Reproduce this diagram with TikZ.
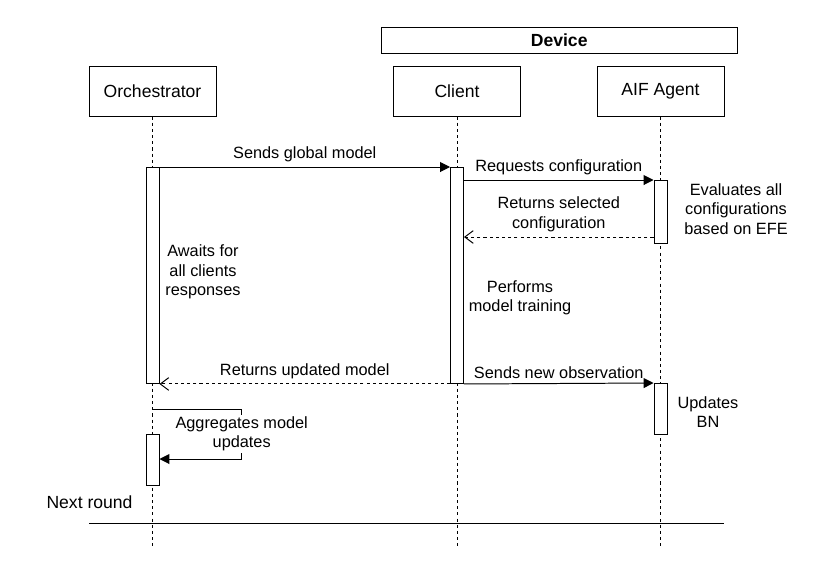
\documentclass[tikz,border=0pt]{standalone}
\usepackage{fontspec}
\setmainfont{Liberation Sans}
\usepackage{tikz}
\usetikzlibrary{arrows.meta, positioning}
\tikzstyle{head2} = [rectangle, minimum width=3.175cm, minimum height=1.25cm, align=center, draw=black, line width=0.7pt, font=\fontsize{12.5}{15}\selectfont]
\tikzstyle{group2} = [rectangle, minimum width=8.89cm, minimum height=0.65cm, align=center, draw=black, line width=0.7pt, font=\fontsize{12.5}{15}\selectfont\bfseries]
\tikzstyle{bar2} = [rectangle, minimum width=0.325cm, inner sep=0pt, anchor=north, draw=black, fill=white, line width=0.7pt]
\tikzstyle{lifeline2} = [line width=0.7pt, dash pattern=on 2.2pt off 2.2pt]
\tikzstyle{arrow2} = [line width=0.7pt, -{Triangle[length=7pt,width=7pt]}]
\tikzstyle{reply2} = [line width=0.7pt, dash pattern=on 2.2pt off 2.2pt, -{Straight Barb[length=6pt,width=9pt]}]
\tikzstyle{label2} = [align=center, font=\fontsize{11.6}{13.9}\selectfont]

\begin{document}
\begin{tikzpicture}
            \useasboundingbox (0,0) rectangle (20.75,-14.425);

            % Participants
            \node (orch) [head2] at (3.8125,-2.275) {Orchestrator};
            \node (client) [head2, right of=orch, node distance=7.6125cm] {Client};
            \node (agent) [head2, right of=client, node distance=5.0875cm] {AIF Agent};
            \node (device) [group2] at (13.98,-1.0) {Device};

            % Lifelines
            \coordinate (orchend) at (orch.south |- 0,-13.675);
            \coordinate (clientend) at (client.south |- 0,-13.675);
            \coordinate (agentend) at (agent.south |- 0,-13.675);
            \draw [lifeline2] (orch.south) -- (orchend);
            \draw [lifeline2] (client.south) -- (clientend);
            \draw [lifeline2] (agent.south) -- (agentend);

            % Activations
            \node (orchbar1) [bar2, minimum height=5.4cm] at (orch.south |- 0,-4.175) {};
            \node (clientbar1) [bar2, minimum height=5.4cm] at (client.south |- 0,-4.175) {};
            \node (agentbar1) [bar2, minimum height=1.575cm] at (agent.south |- 0,-4.5) {};
            \node (agentbar2) [bar2, minimum height=1.275cm] at (agent.south |- 0,-9.575) {};
            \node (orchbar2) [bar2, minimum height=1.275cm] at (orch.south |- 0,-10.85) {};

            % Messages
            \draw [arrow2] (orchbar1.north east) -- node[label2, above] {Sends global model} (clientbar1.north west);
            \draw [arrow2] (clientbar1.east |- agentbar1.north) -- node[label2, above] {Requests configuration} (agentbar1.north west);
            \draw [reply2] (agentbar1.west |- 0,-5.925) -- node[label2, above] {Returns selected\\configuration} (clientbar1.east |- 0,-5.925);
            \draw [reply2] (clientbar1.south west) -- node[label2, above] {Returns updated model} (orchbar1.south east);
            \draw [arrow2] (clientbar1.south east) -- node[label2, above] {Sends new observation} (agentbar2.north west);

            % Self call
            \draw [arrow2] (orch.south |- 0,-10.225) -- ++(2.23,0) -- node[label2, fill=white, inner sep=1pt] {Aggregates model\\updates} ++(0,-1.25) -- (orchbar2.east |- 0,-11.475);

            % Notes
            \node (awaitnote) [label2] at (5.075,-6.8) {Awaits for\\all clients\\responses};
            \node (trainnote) [label2] at (13.0,-7.45) {Performs\\model training};
            \node (evalnote) [label2] at (18.4,-5.225) {Evaluates all\\configurations\\based on EFE};
            \node (bnnote) [label2] at (17.7,-10.3) {Updates\\BN};

            % Round separator
            \node (nextround) [font=\fontsize{12.5}{15}\selectfont] at (2.2375,-12.55) {Next round};
            \coordinate (roundleft) at (2.225,-13.075);
            \coordinate (roundright) at (18.1,-13.075);
            \draw [line width=0.7pt] (roundleft) -- (roundright);

        \end{tikzpicture}
\end{document}
